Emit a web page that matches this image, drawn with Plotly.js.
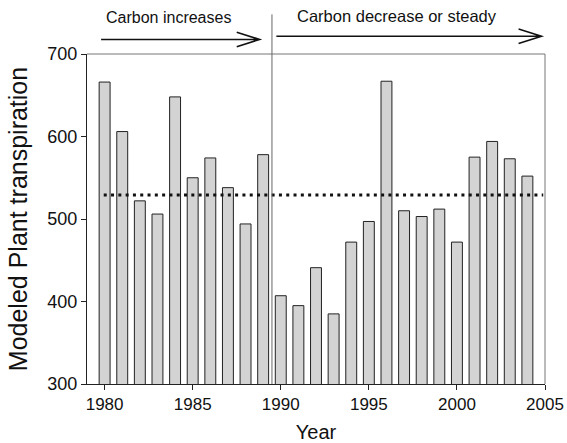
<!DOCTYPE html>
<html>
<head>
<meta charset="utf-8">
<script src="https://cdn.plot.ly/plotly-3.0.1.min.js"></script>
<style>html,body{margin:0;padding:0;background:#fff;}#chart{width:567px;height:443px;}</style>
</head>
<body>
<div id="chart"></div>
<script>
// ---- data ----
const years = [1980,1981,1982,1983,1984,1985,1986,1987,1988,1989,1990,1991,1992,1993,1994,1995,1996,1997,1998,1999,2000,2001,2002,2003,2004];
const transpiration = [666,606,522,506,648,550,574,538,494,578,407,395,441,385,472,497,667,510,503,512,472,575,594,573,552];
const meanValue = 529;
const splitYear = 1989.5;
const xTicks = [1980,1985,1990,1995,2000,2005];
const yTicks = [300,400,500,600,700];
const labelBefore = "Carbon increases";
const labelAfter = "Carbon decrease or steady";
const xTitle = "Year";
const yTitle = "Modeled Plant transpiration";

const FONT = "Liberation Sans, Arial, Helvetica, sans-serif";

function arrowPath(x0, x1, y, headX, headY) {
  return `M ${x0} ${y} L ${x1} ${y} M ${x1 - headX} ${y + headY} L ${x1} ${y} L ${x1 - headX} ${y - headY}`;
}
const headX = 1.3, headY = 0.022;
const arrow1 = {x0: years[0] - 0.2, x1: splitYear - 0.7, y: 1.044};
const arrow2 = {x0: splitYear + 0.25, x1: years[years.length-1] + 0.8, y: 1.054};

const trace = {
  type: 'bar',
  x: years,
  y: transpiration,
  width: 0.62,
  marker: {color: '#d3d3d3', line: {color: '#222', width: 1}},
  hoverinfo: 'x+y'
};

const layout = {
  width: 567, height: 443,
  margin: {l: 87, r: 22, t: 54, b: 59},
  paper_bgcolor: '#fff', plot_bgcolor: '#fff',
  showlegend: false,
  font: {family: FONT, color: '#111'},
  xaxis: {
    range: [1979, 2005], tickvals: xTicks, ticktext: xTicks.map(String),
    ticks: 'outside', ticklen: 5, tickcolor: '#222', tickwidth: 1,
    showline: true, linecolor: '#222', linewidth: 1,
    showgrid: false, zeroline: false,
    tickfont: {size: 17, family: FONT, color: '#111'},
    title: {text: xTitle, font: {size: 20, family: FONT, color: '#111'}, standoff: 13}
  },
  yaxis: {
    range: [300, 700], tickvals: yTicks, ticktext: yTicks.map(String),
    ticks: 'outside', ticklen: 5, tickcolor: '#222', tickwidth: 1,
    showline: true, linecolor: '#222', linewidth: 1,
    showgrid: false, zeroline: false,
    tickfont: {size: 18, family: FONT, color: '#111'},
    title: {text: yTitle, font: {size: 25, family: FONT, color: '#111'}, standoff: 12}
  },
  shapes: [
    // box top and right
    {type: 'line', xref: 'paper', yref: 'paper', x0: 0, x1: 1, y0: 1, y1: 1, line: {color: '#777', width: 1}},
    {type: 'line', xref: 'paper', yref: 'paper', x0: 1, x1: 1, y0: 0, y1: 1, line: {color: '#777', width: 1}},
    // mean line
    {type: 'line', xref: 'x', yref: 'y', x0: years[0] - 0.05, x1: years[years.length-1] + 0.9, y0: meanValue, y1: meanValue,
     line: {color: '#111', width: 3, dash: '3px,4.3px'}},
    // separator
    {type: 'line', xref: 'x', yref: 'paper', x0: splitYear, x1: splitYear, y0: 0, y1: 1.12, line: {color: '#666', width: 1}},
    // arrows
    {type: 'path', xref: 'x', yref: 'paper', path: arrowPath(arrow1.x0, arrow1.x1, arrow1.y, headX, headY), line: {color: '#111', width: 1.6}},
    {type: 'path', xref: 'x', yref: 'paper', path: arrowPath(arrow2.x0, arrow2.x1, arrow2.y, headX, headY), line: {color: '#111', width: 1.6}}
  ],
  annotations: [
    {xref: 'x', yref: 'paper', x: 1983.6, y: 1.11, text: labelBefore, showarrow: false,
     font: {size: 16, family: FONT, color: '#111'}, xanchor: 'center', yanchor: 'middle'},
    {xref: 'x', yref: 'paper', x: 1996.6, y: 1.116, text: labelAfter, showarrow: false,
     font: {size: 16.5, family: FONT, color: '#111'}, xanchor: 'center', yanchor: 'middle'}
  ]
};

Plotly.newPlot('chart', [trace], layout, {displayModeBar: false, staticPlot: true});
</script>
</body>
</html>
